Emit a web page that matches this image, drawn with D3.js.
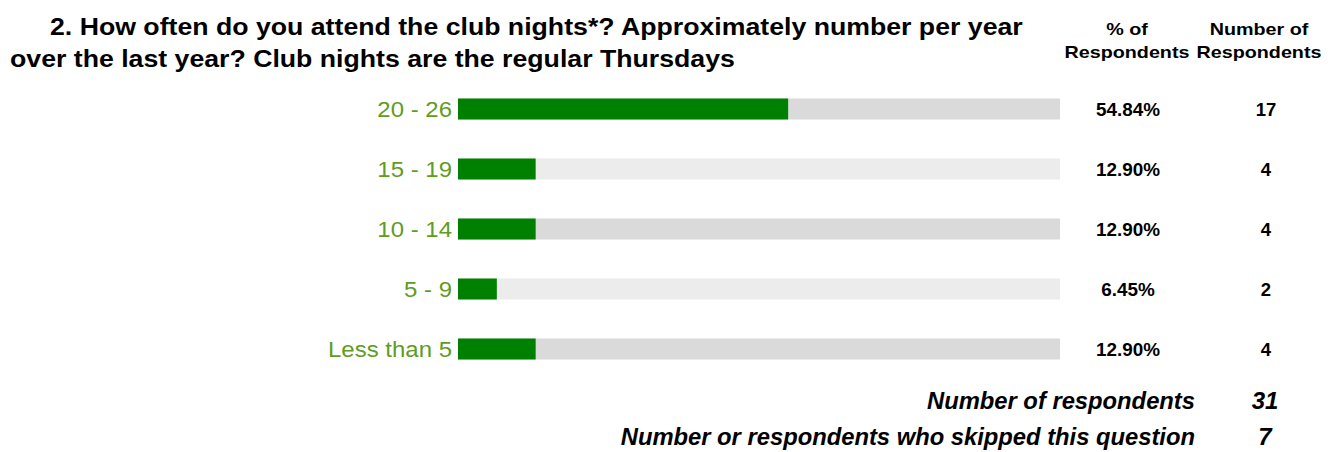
<!DOCTYPE html>
<html><head><meta charset="utf-8">
<script src="https://cdn.jsdelivr.net/npm/d3@7"></script>
<style>body{margin:0;background:#fff}</style>
</head><body>
<svg id="c" width="1331" height="452"></svg>
<script>
const categories = ["20 - 26","15 - 19","10 - 14","5 - 9","Less than 5"];
const percents = [54.84, 12.90, 12.90, 6.45, 12.90];
const counts = [17, 4, 4, 2, 4];
const titleLines = ["2. How often do you attend the club nights*? Approximately number per year","over the last year? Club nights are the regular Thursdays"];
const headers = [["% of","Respondents"],["Number of","Respondents"]];
const footerLabels = ["Number of respondents","Number or respondents who skipped this question"];
const footerValues = [31, 7];

const svg = d3.select("#c");
const x = d3.scaleLinear().domain([0,100]).range([458,1060]);
const y = d3.scaleBand().domain(categories).range([79,379]).paddingInner(0.65).paddingOuter(0.325);
const sans = "'Liberation Sans',Arial,sans-serif";

function stretch(sel, k){
  sel.each(function(){
    const w = this.getComputedTextLength();
    d3.select(this).attr("textLength", w*k).attr("lengthAdjust","spacingAndGlyphs");
  });
}

// Title
stretch(svg.append("text").attr("x",50).attr("y",35).attr("font-family",sans).attr("font-weight","bold").attr("font-size",23.5).text(titleLines[0]), 1.135);
stretch(svg.append("text").attr("x",10).attr("y",67).attr("font-family",sans).attr("font-weight","bold").attr("font-size",23.5).text(titleLines[1]), 1.135);

// Column headers
[1127,1259].forEach((cx,i)=>{
  stretch(svg.append("text").attr("x",cx).attr("y",35).attr("text-anchor","middle").attr("font-family",sans).attr("font-weight","bold").attr("font-size",17).text(headers[i][0]),1.16);
  stretch(svg.append("text").attr("x",cx).attr("y",58).attr("text-anchor","middle").attr("font-family",sans).attr("font-weight","bold").attr("font-size",17).text(headers[i][1]),1.16);
});

const rows = svg.selectAll("g.row").data(categories).join("g").attr("class","row");
rows.append("rect").attr("x",x(0)).attr("y",d=>y(d)).attr("width",x(100)-x(0)).attr("height",y.bandwidth())
  .attr("fill",(d,i)=> i%2===0 ? "#dadada" : "#ececec");
rows.append("rect").attr("x",x(0)).attr("y",d=>y(d)).attr("width",(d,i)=>x(percents[i])-x(0)).attr("height",y.bandwidth()).attr("fill","#008000");
stretch(rows.append("text").attr("x",452).attr("y",d=>y(d)+y.bandwidth()/2+8).attr("text-anchor","end")
  .attr("font-family",sans).attr("font-size",22).attr("fill","#5f9c22").text(d=>d), 1.09);
stretch(rows.append("text").attr("x",1128).attr("y",d=>y(d)+y.bandwidth()/2+7).attr("text-anchor","middle")
  .attr("font-family",sans).attr("font-weight","bold").attr("font-size",18.5).text((d,i)=>percents[i].toFixed(2)+"%"), 1.02);
rows.append("text").attr("x",1266).attr("y",d=>y(d)+y.bandwidth()/2+7).attr("text-anchor","middle")
  .attr("font-family",sans).attr("font-weight","bold").attr("font-size",18.5).text((d,i)=>counts[i]);

// Footer
[409,445].forEach((by,i)=>{
  stretch(svg.append("text").attr("x",1195).attr("y",by).attr("text-anchor","end").attr("font-family",sans).attr("font-weight","bold").attr("font-style","italic").attr("font-size",24).text(footerLabels[i]), 0.99);
  svg.append("text").attr("x",1265).attr("y",by).attr("text-anchor","middle").attr("font-family",sans).attr("font-weight","bold").attr("font-style","italic").attr("font-size",24).text(footerValues[i]);
});
</script>
</body></html>
